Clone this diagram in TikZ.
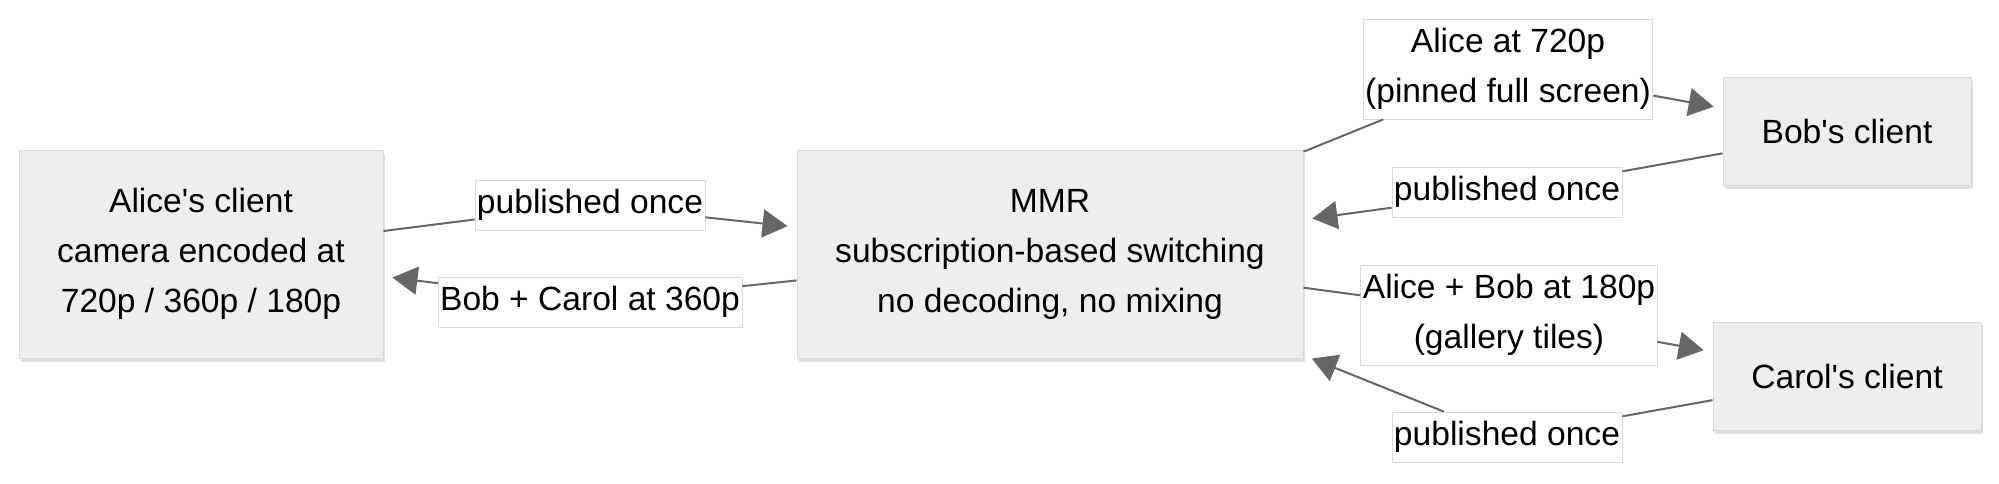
\documentclass[tikz,border=0pt]{standalone}
\usepackage{fontspec}
\setmainfont{Liberation Sans}[Ligatures=TeXOff]
\usetikzlibrary{arrows.meta,shadows}
\definecolor{boxgray}{HTML}{EEEEEE}
\definecolor{rimgray}{HTML}{DADADA}
\definecolor{edgegray}{HTML}{666666}
\tikzset{
  client/.style={rectangle,draw=rimgray,fill=boxgray,align=center,line width=0.5pt,
    drop shadow={shadow xshift=1pt,shadow yshift=-2pt,fill=black,opacity=0.12}},
  tag/.style={rectangle,draw=rimgray,fill=white,align=center,line width=0.4pt,
    inner xsep=1pt,inner ysep=0pt,minimum height=25pt},
  link/.style={draw=edgegray,line width=1pt},
  flow/.style={link,-{Triangle[length=12.5pt,width=14pt]},shorten >=4.5pt}
}

\begin{document}
\begin{tikzpicture}[x=0.5pt,y=-0.5pt,font=\fontsize{16.8}{25}\selectfont]
	\useasboundingbox (0,0) rectangle (1999,483);
	\node[client,minimum width=182pt,minimum height=104pt] (alice) at (201,254) {Alice's client\\camera encoded at\\720p / 360p / 180p};
	\node[client,minimum width=253pt,minimum height=104pt] (mmr) at (1050,254) {MMR\\subscription-based switching\\no decoding, no mixing};
	\node[client,minimum width=124pt,minimum height=54pt] (bob) at (1847,131) {Bob's client};
	\node[client,minimum width=134pt,minimum height=54pt] (carol) at (1847,376) {Carol's client};
	\node[tag] (pubA) at (590,205) {published once};
	\node[tag] (back) at (590,302) {Bob + Carol at 360p};
	\node[tag,minimum height=50pt] (pinned) at (1508,69) {Alice at 720p\\(pinned full screen)};
	\node[tag] (pubB) at (1507,192) {published once};
	\node[tag,minimum height=50pt] (gallery) at (1509,315) {Alice + Bob at 180p\\(gallery tiles)};
	\node[tag] (pubC) at (1507,437) {published once};
	\draw[link] (alice) -- (pubA);
	\draw[flow] (pubA) -- (mmr);
	\draw[link] (mmr) -- (back);
	\draw[flow] (back) -- (alice);
	\draw[link] (mmr) -- (pinned);
	\draw[flow] (pinned) -- (bob);
	\draw[link] (bob) -- (pubB);
	\draw[flow] (pubB) -- (mmr);
	\draw[link] (mmr) -- (gallery);
	\draw[flow] (gallery) -- (carol);
	\draw[link] (carol) -- (pubC);
	\draw[flow] (pubC) -- (mmr);
\end{tikzpicture}
\end{document}
